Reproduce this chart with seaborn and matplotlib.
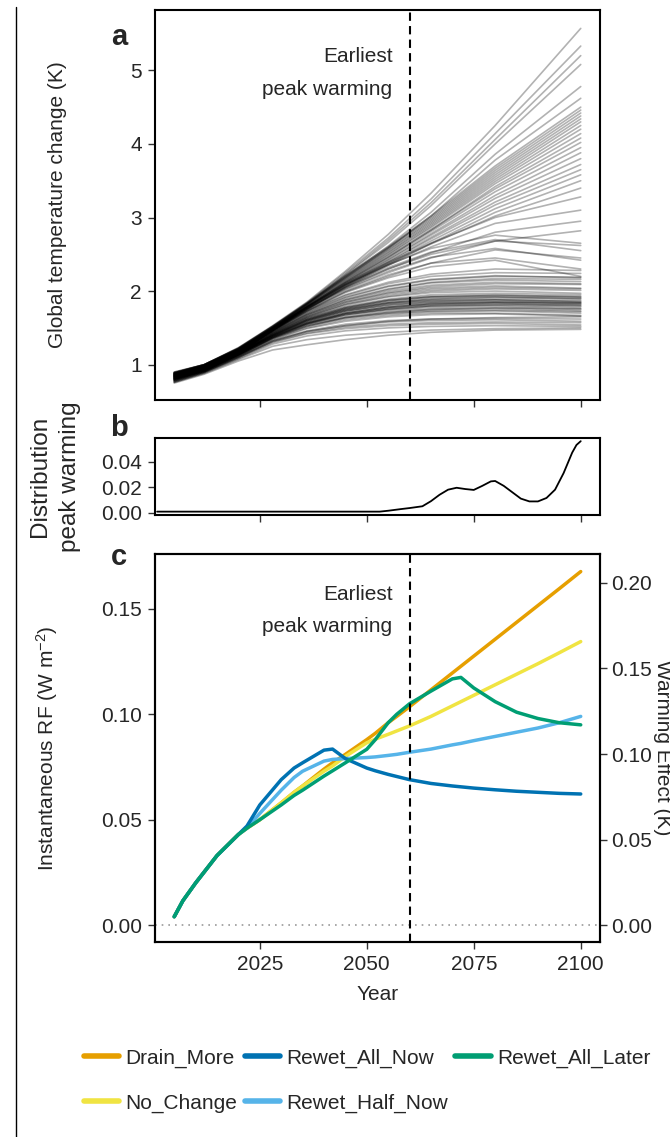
import numpy as np
import pandas as pd
import matplotlib
matplotlib.use('Agg')
import matplotlib.pyplot as plt
from matplotlib.lines import Line2D
from matplotlib.ticker import FormatStrFormatter
import seaborn as sns

# ---- panel a: ensemble of temperature pathways (K), one row per run ----
run_years = [2005, 2012, 2020, 2028, 2036, 2045, 2055, 2065, 2080, 2100]

runs_plateau_low = [
    [0.75, 0.87, 1.05, 1.20, 1.27, 1.34, 1.40, 1.44, 1.47, 1.48],
    [0.76, 0.88, 1.07, 1.25, 1.34, 1.40, 1.44, 1.47, 1.49, 1.50],
    [0.77, 0.89, 1.08, 1.28, 1.39, 1.46, 1.50, 1.52, 1.53, 1.52],
    [0.76, 0.89, 1.09, 1.30, 1.42, 1.49, 1.53, 1.55, 1.56, 1.54],
    [0.78, 0.90, 1.10, 1.31, 1.43, 1.51, 1.55, 1.57, 1.58, 1.57],
    [0.77, 0.90, 1.10, 1.32, 1.45, 1.53, 1.58, 1.60, 1.61, 1.59],
    [0.79, 0.91, 1.11, 1.33, 1.46, 1.55, 1.60, 1.62, 1.63, 1.62],
    [0.78, 0.90, 1.10, 1.32, 1.45, 1.53, 1.59, 1.62, 1.64, 1.65],
]
runs_plateau_mid = [
    [0.78, 0.90, 1.11, 1.34, 1.49, 1.59, 1.65, 1.68, 1.69, 1.66],
    [0.80, 0.91, 1.12, 1.35, 1.50, 1.61, 1.67, 1.70, 1.70, 1.67],
    [0.79, 0.91, 1.12, 1.36, 1.52, 1.63, 1.69, 1.72, 1.73, 1.70],
    [0.81, 0.92, 1.13, 1.36, 1.53, 1.64, 1.70, 1.73, 1.74, 1.72],
    [0.82, 0.92, 1.13, 1.37, 1.54, 1.65, 1.72, 1.75, 1.76, 1.73],
    [0.80, 0.91, 1.12, 1.36, 1.52, 1.64, 1.71, 1.75, 1.77, 1.76],
    [0.79, 0.92, 1.13, 1.37, 1.55, 1.67, 1.74, 1.77, 1.78, 1.75],
    [0.81, 0.92, 1.14, 1.38, 1.56, 1.68, 1.75, 1.79, 1.80, 1.77],
    [0.83, 0.93, 1.14, 1.38, 1.56, 1.69, 1.76, 1.80, 1.81, 1.79],
    [0.80, 0.92, 1.13, 1.37, 1.55, 1.68, 1.76, 1.80, 1.82, 1.81],
    [0.82, 0.93, 1.15, 1.39, 1.57, 1.70, 1.78, 1.82, 1.83, 1.80],
    [0.81, 0.92, 1.14, 1.38, 1.57, 1.70, 1.78, 1.82, 1.84, 1.82],
    [0.79, 0.92, 1.13, 1.37, 1.56, 1.70, 1.78, 1.83, 1.85, 1.84],
    [0.83, 0.94, 1.15, 1.39, 1.58, 1.72, 1.80, 1.84, 1.85, 1.83],
    [0.81, 0.93, 1.15, 1.40, 1.59, 1.73, 1.81, 1.85, 1.86, 1.84],
    [0.82, 0.93, 1.14, 1.39, 1.59, 1.73, 1.82, 1.86, 1.88, 1.86],
    [0.80, 0.93, 1.15, 1.40, 1.60, 1.74, 1.83, 1.87, 1.88, 1.85],
    [0.84, 0.94, 1.16, 1.41, 1.61, 1.75, 1.84, 1.88, 1.89, 1.87],
    [0.81, 0.92, 1.14, 1.39, 1.60, 1.75, 1.84, 1.89, 1.91, 1.90],
    [0.82, 0.94, 1.15, 1.40, 1.61, 1.76, 1.85, 1.90, 1.92, 1.89],
    [0.83, 0.95, 1.16, 1.41, 1.62, 1.77, 1.87, 1.92, 1.93, 1.91],
    [0.80, 0.93, 1.15, 1.40, 1.61, 1.77, 1.87, 1.92, 1.94, 1.93],
    [0.84, 0.95, 1.16, 1.42, 1.63, 1.78, 1.88, 1.93, 1.95, 1.92],
    [0.82, 0.94, 1.15, 1.41, 1.63, 1.79, 1.89, 1.95, 1.97, 1.95],
]
runs_plateau_high = [
    [0.81, 0.93, 1.14, 1.42, 1.64, 1.81, 1.92, 1.98, 2.00, 1.97],
    [0.83, 0.94, 1.16, 1.43, 1.65, 1.82, 1.93, 2.00, 2.03, 2.01],
    [0.82, 0.93, 1.15, 1.42, 1.65, 1.83, 1.95, 2.02, 2.05, 2.03],
    [0.84, 0.95, 1.16, 1.44, 1.67, 1.85, 1.97, 2.04, 2.07, 2.04],
    [0.82, 0.94, 1.15, 1.43, 1.66, 1.85, 1.98, 2.06, 2.10, 2.09],
    [0.85, 0.96, 1.17, 1.44, 1.68, 1.87, 2.00, 2.08, 2.12, 2.10],
    [0.83, 0.94, 1.16, 1.44, 1.68, 1.88, 2.02, 2.11, 2.15, 2.13],
    [0.85, 0.96, 1.17, 1.45, 1.69, 1.89, 2.03, 2.12, 2.17, 2.16],
    [0.84, 0.95, 1.16, 1.45, 1.70, 1.91, 2.06, 2.15, 2.20, 2.19],
    [0.86, 0.97, 1.18, 1.46, 1.71, 1.92, 2.07, 2.16, 2.21, 2.18],
    [0.84, 0.96, 1.17, 1.46, 1.72, 1.94, 2.10, 2.20, 2.25, 2.24],
    [0.86, 0.97, 1.18, 1.47, 1.73, 1.95, 2.12, 2.23, 2.30, 2.28],
]
runs_hump = [
    [0.83, 0.94, 1.16, 1.46, 1.73, 1.98, 2.18, 2.33, 2.42, 2.20],
    [0.85, 0.96, 1.18, 1.47, 1.74, 2.00, 2.22, 2.38, 2.45, 2.30],
    [0.84, 0.95, 1.17, 1.47, 1.76, 2.03, 2.27, 2.46, 2.58, 2.42],
    [0.86, 0.97, 1.19, 1.48, 1.77, 2.06, 2.32, 2.53, 2.70, 2.55],
    [0.85, 0.96, 1.18, 1.48, 1.78, 2.09, 2.36, 2.58, 2.76, 2.65],
    [0.84, 0.95, 1.17, 1.47, 1.76, 2.04, 2.30, 2.50, 2.68, 2.62],
]
runs_rise_moderate = [
    [0.84, 0.95, 1.16, 1.46, 1.73, 1.99, 2.20, 2.38, 2.56, 2.45],
    [0.86, 0.97, 1.18, 1.47, 1.75, 2.02, 2.25, 2.45, 2.68, 2.82],
    [0.85, 0.96, 1.17, 1.47, 1.76, 2.05, 2.30, 2.52, 2.80, 2.95],
    [0.87, 0.98, 1.19, 1.48, 1.78, 2.08, 2.35, 2.60, 2.92, 3.10],
    [0.86, 0.97, 1.20, 1.49, 1.79, 2.11, 2.39, 2.65, 3.00, 3.28],
    [0.85, 0.96, 1.18, 1.48, 1.78, 2.09, 2.37, 2.64, 3.02, 3.40],
]
runs_rise_strong = [
    [0.85, 0.96, 1.17, 1.46, 1.75, 2.05, 2.35, 2.65, 3.07, 3.50],
    [0.87, 0.98, 1.19, 1.47, 1.75, 2.06, 2.37, 2.68, 3.12, 3.58],
    [0.86, 0.97, 1.18, 1.47, 1.76, 2.07, 2.39, 2.71, 3.17, 3.65],
    [0.88, 0.99, 1.20, 1.48, 1.77, 2.08, 2.40, 2.73, 3.21, 3.72],
    [0.86, 0.97, 1.19, 1.48, 1.78, 2.09, 2.42, 2.76, 3.26, 3.80],
    [0.87, 0.98, 1.20, 1.49, 1.78, 2.10, 2.43, 2.78, 3.30, 3.88],
    [0.88, 0.99, 1.21, 1.49, 1.79, 2.11, 2.45, 2.81, 3.35, 3.95],
    [0.86, 0.98, 1.20, 1.50, 1.79, 2.12, 2.46, 2.83, 3.39, 4.02],
]
runs_rise_steep = [
    [0.87, 0.98, 1.19, 1.48, 1.78, 2.12, 2.47, 2.83, 3.42, 4.08],
    [0.88, 0.99, 1.20, 1.49, 1.79, 2.13, 2.49, 2.86, 3.46, 4.14],
    [0.86, 0.97, 1.19, 1.49, 1.80, 2.14, 2.50, 2.88, 3.49, 4.20],
    [0.89, 1.00, 1.21, 1.50, 1.80, 2.15, 2.52, 2.90, 3.52, 4.25],
    [0.87, 0.98, 1.20, 1.50, 1.81, 2.16, 2.53, 2.92, 3.55, 4.30],
    [0.88, 0.99, 1.21, 1.50, 1.82, 2.17, 2.55, 2.94, 3.58, 4.34],
    [0.89, 1.00, 1.22, 1.51, 1.82, 2.18, 2.56, 2.96, 3.61, 4.38],
    [0.87, 0.99, 1.21, 1.51, 1.83, 2.19, 2.58, 2.98, 3.64, 4.42],
    [0.88, 1.00, 1.22, 1.52, 1.83, 2.20, 2.59, 3.00, 3.67, 4.46],
    [0.89, 1.00, 1.22, 1.52, 1.84, 2.21, 2.60, 3.02, 3.70, 4.50],
]
runs_rise_extreme = [
    [0.88, 0.98, 1.20, 1.50, 1.81, 2.18, 2.58, 3.02, 3.78, 4.62],
    [0.89, 0.99, 1.21, 1.50, 1.82, 2.20, 2.61, 3.07, 3.86, 4.78],
    [0.88, 0.99, 1.22, 1.51, 1.82, 2.22, 2.66, 3.16, 4.00, 5.08],
    [0.90, 1.00, 1.22, 1.52, 1.83, 2.23, 2.69, 3.20, 4.06, 5.20],
    [0.89, 1.00, 1.23, 1.52, 1.84, 2.25, 2.72, 3.25, 4.14, 5.33],
    [0.90, 1.00, 1.23, 1.53, 1.85, 2.27, 2.77, 3.33, 4.25, 5.57],
]

# ---- panel b: distribution of peak warming year ----
peak_years = [2001, 2053, 2055, 2058, 2060, 2063, 2065, 2067, 2069, 2071, 2073,
              2075, 2077, 2079, 2080, 2082, 2084, 2086, 2088, 2090, 2092, 2094,
              2096, 2098, 2099, 2100]
peak_density = [0.0008, 0.0008, 0.0015, 0.0028, 0.0036, 0.005, 0.009, 0.014,
                0.018, 0.0195, 0.0185, 0.0178, 0.021, 0.0245, 0.0248, 0.021,
                0.016, 0.011, 0.0088, 0.0088, 0.0115, 0.018, 0.031, 0.047,
                0.053, 0.056]

# ---- panel c: instantaneous radiative forcing (W m-2) per scenario ----
rf_years = [2005, 2007, 2010, 2015, 2020, 2022, 2025, 2030, 2033, 2035, 2040, 2042,
            2045, 2050, 2052, 2055, 2057, 2060, 2065, 2070, 2072, 2075, 2080, 2085,
            2090, 2095, 2100]
rf_drain_more = [0.004, 0.0115, 0.020, 0.033, 0.043, 0.046, 0.050, 0.058, 0.063, 0.066,
                 0.074, 0.077, 0.081, 0.088, 0.091, 0.096, 0.099, 0.1036, 0.1116, 0.1196,
                 0.1228, 0.1276, 0.1356, 0.1436, 0.1516, 0.1596, 0.1677]
rf_no_change = [0.004, 0.0115, 0.020, 0.033, 0.043, 0.046, 0.050, 0.058, 0.063, 0.066,
                0.073, 0.0755, 0.080, 0.0865, 0.0882, 0.0905, 0.0921, 0.0945, 0.0990, 0.1040,
                0.1060, 0.1090, 0.1140, 0.1190, 0.1240, 0.1292, 0.1345]
rf_rewet_half_now = [0.004, 0.0115, 0.020, 0.033, 0.043, 0.046, 0.053, 0.064, 0.070, 0.073,
                     0.0778, 0.0786, 0.0790, 0.0795, 0.0798, 0.0805, 0.081, 0.082, 0.0835, 0.0855,
                     0.0862, 0.0875, 0.0895, 0.0915, 0.0935, 0.096, 0.099]
rf_rewet_all_now = [0.004, 0.0115, 0.020, 0.033, 0.043, 0.047, 0.057, 0.069, 0.0745, 0.0770,
                    0.0830, 0.0835, 0.0790, 0.0745, 0.0732, 0.0715, 0.0705, 0.069, 0.0672, 0.066,
                    0.0656, 0.065, 0.0642, 0.0635, 0.063, 0.0625, 0.0622]
rf_rewet_all_later = [0.004, 0.0115, 0.020, 0.033, 0.043, 0.046, 0.050, 0.057, 0.0615, 0.064,
                      0.0707, 0.0732, 0.077, 0.0834, 0.088, 0.096, 0.100, 0.105, 0.111, 0.1168,
                      0.1175, 0.1125, 0.106, 0.101, 0.098, 0.096, 0.095]

scenario_colors = {
    'Drain_More': '#E69F00',
    'No_Change': '#F0E442',
    'Rewet_Half_Now': '#56B4E9',
    'Rewet_All_Now': '#0072B2',
    'Rewet_All_Later': '#009E73',
}
peak_warming_year = 2060
rf_to_warming = 1.232  # right axis scale (K per W m-2)

# build long tables
run_groups = [runs_plateau_low, runs_plateau_mid, runs_plateau_high, runs_hump,
              runs_rise_moderate, runs_rise_strong, runs_rise_steep, runs_rise_extreme]
rows = []
run_id = 0
for group in run_groups:
    for run in group:
        for yr, val in zip(run_years, run):
            rows.append({'run': run_id, 'year': yr, 'temp': val})
        run_id += 1
temp_df = pd.DataFrame(rows)

peak_df = pd.DataFrame({'year': peak_years, 'density': peak_density})

rf_df = pd.concat([
    pd.DataFrame({'year': rf_years, 'rf': rf_drain_more, 'scenario': 'Drain_More'}),
    pd.DataFrame({'year': rf_years, 'rf': rf_no_change, 'scenario': 'No_Change'}),
    pd.DataFrame({'year': rf_years, 'rf': rf_rewet_half_now, 'scenario': 'Rewet_Half_Now'}),
    pd.DataFrame({'year': rf_years, 'rf': rf_rewet_all_now, 'scenario': 'Rewet_All_Now'}),
    pd.DataFrame({'year': rf_years, 'rf': rf_rewet_all_later, 'scenario': 'Rewet_All_Later'}),
], ignore_index=True)

sns.set_theme(style='ticks')
plt.rcParams['font.family'] = ['Liberation Sans', 'DejaVu Sans']
plt.rcParams['mathtext.default'] = 'regular'
plt.rcParams['axes.linewidth'] = 1.5
plt.rcParams['xtick.major.size'] = 5
plt.rcParams['ytick.major.size'] = 5
plt.rcParams['xtick.major.width'] = 1.0
plt.rcParams['ytick.major.width'] = 1.0

FS = 15
fig = plt.figure(figsize=(6.7, 11.37), dpi=100)
ax_a = fig.add_axes([0.2313, 0.6482, 0.6642, 0.343])
ax_b = fig.add_axes([0.2313, 0.5471, 0.6642, 0.0677])
ax_c = fig.add_axes([0.2313, 0.1715, 0.6642, 0.3412])
xlim = (2000.5, 2104.5)
xticks = [2025, 2050, 2075, 2100]

# panel a
sns.lineplot(data=temp_df, x='year', y='temp', units='run', estimator=None,
             color='black', alpha=0.3, lw=1.2, ax=ax_a)
ax_a.axvline(peak_warming_year, color='black', ls=(0, (4, 2.5)), lw=1.5)
ax_a.text(2056, 4.965, 'Earliest\npeak warming', ha='right', va='center',
          fontsize=FS, linespacing=1.9)
ax_a.set_xlim(*xlim)
ax_a.set_ylim(0.52, 5.82)
ax_a.set_yticks([1, 2, 3, 4, 5])
ax_a.set_xticks(xticks)
ax_a.set_xticklabels([])
ax_a.set_xlabel('')
ax_a.set_ylabel('Global temperature change (K)', fontsize=FS, va='center')
ax_a.yaxis.set_label_coords(-0.22, 0.5)

# panel b
sns.lineplot(data=peak_df, x='year', y='density', color='black', lw=1.3, ax=ax_b)
ax_b.set_xlim(*xlim)
ax_b.set_ylim(-0.0018, 0.0585)
ax_b.set_yticks([0.0, 0.02, 0.04])
ax_b.yaxis.set_major_formatter(FormatStrFormatter('%.2f'))
ax_b.set_xticks(xticks)
ax_b.set_xticklabels([])
ax_b.set_xlabel('')
ax_b.set_ylabel('Distribution\npeak warming', fontsize=17.5, va='center', linespacing=1.5)
ax_b.yaxis.set_label_coords(-0.225, 0.5)

# panel c
ax_c.axhline(0, color='#999999', ls=(0, (1, 3)), lw=1.2)
sns.lineplot(data=rf_df, x='year', y='rf', hue='scenario',
             hue_order=list(scenario_colors), palette=scenario_colors,
             lw=2.5, legend=False, ax=ax_c)
ax_c.axvline(peak_warming_year, color='black', ls=(0, (4, 2.5)), lw=1.5)
ax_c.text(2056, 0.1493, 'Earliest\npeak warming', ha='right', va='center',
          fontsize=FS, linespacing=1.9)
rf_lim = (-0.008, 0.176)
ax_c.set_xlim(*xlim)
ax_c.set_ylim(*rf_lim)
ax_c.set_yticks([0.0, 0.05, 0.10, 0.15])
ax_c.yaxis.set_major_formatter(FormatStrFormatter('%.2f'))
ax_c.set_xticks(xticks)
ax_c.set_xlabel('Year', fontsize=FS, labelpad=8)
ax_c.set_ylabel('Instantaneous RF (W m$^{-2}$)', fontsize=FS, va='center')
ax_c.yaxis.set_label_coords(-0.243, 0.5)

ax_r = ax_c.twinx()
ax_r.set_ylim(rf_lim[0] * rf_to_warming, rf_lim[1] * rf_to_warming)
ax_r.set_yticks([0.0, 0.05, 0.10, 0.15, 0.20])
ax_r.yaxis.set_major_formatter(FormatStrFormatter('%.2f'))
ax_r.set_ylabel('Warming Effect (K)', fontsize=FS, rotation=270, va='center')
ax_r.yaxis.set_label_coords(1.14, 0.5)

for ax in (ax_a, ax_b, ax_c):
    ax.tick_params(labelsize=FS, direction='out', color='#333333', pad=4.5)
    for sp in ax.spines.values():
        sp.set_color('black')
ax_r.tick_params(labelsize=FS, direction='out', color='#333333', pad=3)
for sp in ax_r.spines.values():
    sp.set_color('black')

# panel letters
for letter, ypx in (('a', 37), ('b', 428), ('c', 557)):
    fig.text(119 / 670, 1 - ypx / 1137, letter, fontsize=21, fontweight='bold',
             ha='center', va='center')

# legend (column-major fill to match row order of the original)
legend_order = ['Drain_More', 'No_Change', 'Rewet_All_Now', 'Rewet_Half_Now', 'Rewet_All_Later']
handles = [Line2D([0], [0], color=scenario_colors[s], lw=4) for s in legend_order]
fig.legend(handles, legend_order, ncol=3, loc='center', bbox_to_anchor=(0.548, 0.0495),
           frameon=False, fontsize=FS, handlelength=1.7, handletextpad=0.3,
           columnspacing=0.35, labelspacing=1.25)

# thin vertical rule at the left edge
fig.add_artist(Line2D([16 / 670, 16 / 670], [1 - 7 / 1137, 0], color='black', lw=1.0))

fig.savefig('out.png', dpi=100)
